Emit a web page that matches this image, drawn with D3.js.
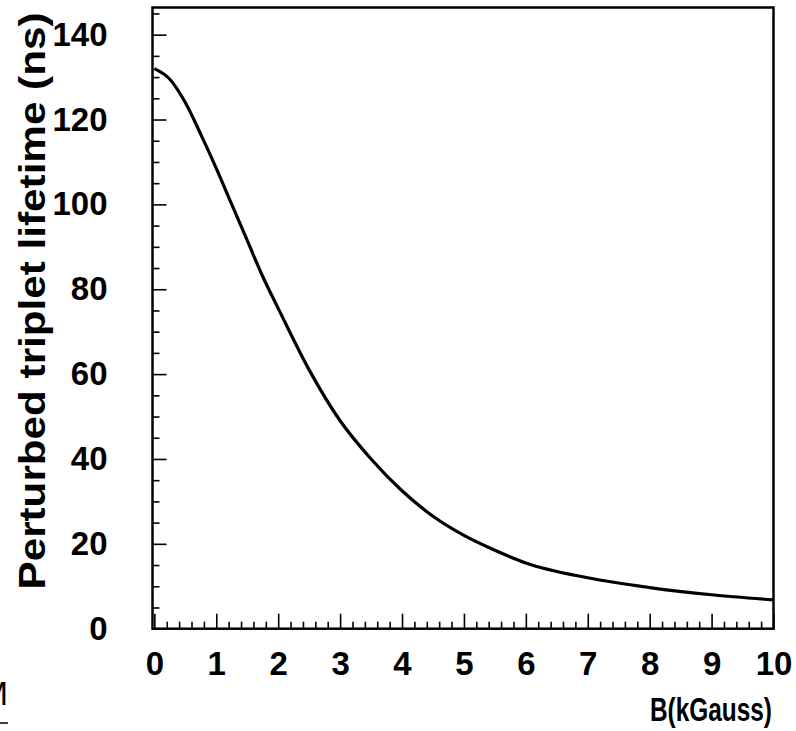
<!DOCTYPE html>
<html>
<head>
<meta charset="utf-8">
<script src="https://cdn.jsdelivr.net/npm/d3@7"></script>
<style>
  body { margin: 0; background: #fff; }
  svg { display: block; font-family: "Liberation Sans", Arial, Helvetica, sans-serif; }
  .tick text { font-weight: bold; fill: #000; }
</style>
</head>
<body>
<div class="root"></div>
<script>
// values
var bField = [0, 0.25, 0.5, 0.75, 1, 1.25, 1.5, 1.75, 2, 2.5, 3, 3.5, 4, 4.5, 5, 5.5, 6, 7, 8, 9, 10];
var lifetime = [132, 129.5, 124, 116.5, 108.5, 100, 91.5, 83, 75.5, 61, 49, 40, 32.5, 26.5, 22, 18.5, 15.5, 12, 9.7, 8, 6.8];

var xMajor = [0, 1, 2, 3, 4, 5, 6, 7, 8, 9, 10];
var yMajor = [0, 20, 40, 60, 80, 100, 120, 140];

var xLabel = "B(kGauss)",
    yLabel = "Perturbed triplet lifetime (ns)";

var width = 796,
    height = 731;

var svg = d3.select(".root")
          .append("svg")
          .attr("width", width)
          .attr("height", height)

var x = d3.scaleLinear()
        .domain([-0.03, 10])
        .range([152.5, 773.5]);

var y = d3.scaleLinear()
        .domain([0, 146.4])
        .range([628.7, 7.5]);

// minor ticks: 0.2 on x, 5 on y
var xMinor = d3.range(0, 50).map(i => i * 0.2).filter(v => Math.abs(v - Math.round(v)) > 1e-6);
var yMinor = d3.range(0, 30).map(i => i * 5).filter(v => v % 20 != 0);

function styleAxis(g) {
  g.selectAll(".domain").remove();
  g.selectAll("line").attr("stroke", "#000").attr("stroke-width", 1.6);
  g.selectAll("text").style("font-size", "33px");
}

svg.append("g")
    .attr("transform", "translate(0," + y(0) + ")")
    .call(d3.axisBottom(x).tickValues(xMinor).tickSize(-7).tickFormat(""))
    .call(styleAxis);
svg.append("g")
    .attr("transform", "translate(0," + y(0) + ")")
    .call(d3.axisBottom(x).tickValues(xMajor).tickSize(-15).tickPadding(23).tickFormat(d3.format("d")))
    .call(styleAxis);

svg.append("g")
    .attr("transform", "translate(" + x.range()[0] + ",0)")
    .call(d3.axisLeft(y).tickValues(yMinor).tickSize(-7).tickFormat(""))
    .call(styleAxis);
svg.append("g")
    .attr("transform", "translate(" + x.range()[0] + ",0)")
    .call(d3.axisLeft(y).tickValues(yMajor).tickSize(-14).tickPadding(45).tickFormat(d3.format("d")))
    .call(styleAxis);

// frame
svg.append("rect")
    .attr("x", x.range()[0])
    .attr("y", y.range()[1])
    .attr("width", x.range()[1] - x.range()[0])
    .attr("height", y.range()[0] - y.range()[1])
    .attr("fill", "none")
    .attr("stroke", "#000")
    .attr("stroke-width", 2.5);

var line = d3.line()
    .x((d, i) => x(bField[i]))
    .y(d => y(d))
    .curve(d3.curveMonotoneX);

svg.append("path")
    .datum(lifetime)
    .attr("d", line)
    .attr("fill", "none")
    .attr("stroke", "#000")
    .attr("stroke-width", 3.2);

svg.append("text")
    .attr("transform", "translate(772,721) scale(0.74,1)")
    .attr("text-anchor", "end")
    .attr("font-size", 33)
    .attr("font-weight", "bold")
    .text(xLabel);

svg.append("text")
    .attr("transform", "translate(45,301) rotate(-90)")
    .attr("text-anchor", "middle")
    .attr("font-size", 36)
    .attr("font-weight", "bold")
    .attr("textLength", 577)
    .attr("lengthAdjust", "spacingAndGlyphs")
    .text(yLabel);

// clipped leftover at the bottom-left edge
svg.append("text")
    .attr("x", 8)
    .attr("y", 705)
    .attr("text-anchor", "end")
    .attr("font-size", 34)
    .text("M");
svg.append("line")
    .attr("x1", 0).attr("x2", 8)
    .attr("y1", 723).attr("y2", 723)
    .attr("stroke", "#000")
    .attr("stroke-width", 1.5);
</script>
</body>
</html>
